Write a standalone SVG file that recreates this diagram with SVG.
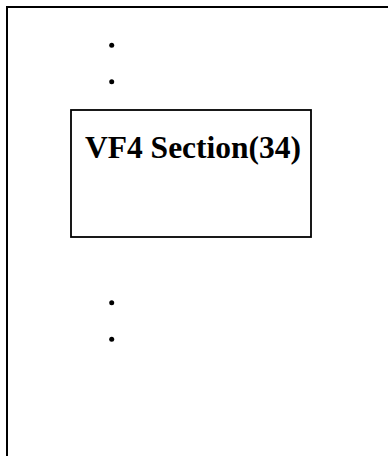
<svg xmlns="http://www.w3.org/2000/svg" width="388" height="456" viewBox="0 0 388 456">
<style>
.frame{fill:none;stroke:#000;stroke-width:2}
.box{fill:#fff;stroke:#000;stroke-width:1.8}
.dot{fill:#000}
.lbl{font-family:"Liberation Serif","Times New Roman",serif;font-weight:bold;font-size:31.5px;fill:#000}
</style>
<rect x="0" y="0" width="388" height="456" fill="#fff"/>
<g id="frame"><rect class="frame" x="7" y="7" width="420" height="480"/></g>
<g id="dots-top">
<circle class="dot" cx="111.7" cy="45.3" r="2.5"/>
<circle class="dot" cx="111.7" cy="81.7" r="2.5"/>
</g>
<g id="node-vf4">
<rect class="box" x="71" y="110" width="240" height="127"/>
<text class="lbl" x="85" y="158">VF4 Section(34)</text>
</g>
<g id="dots-bottom">
<circle class="dot" cx="111.7" cy="302.7" r="2.5"/>
<circle class="dot" cx="111.7" cy="339.3" r="2.5"/>
</g>
<g id="connectors"></g>
</svg>
